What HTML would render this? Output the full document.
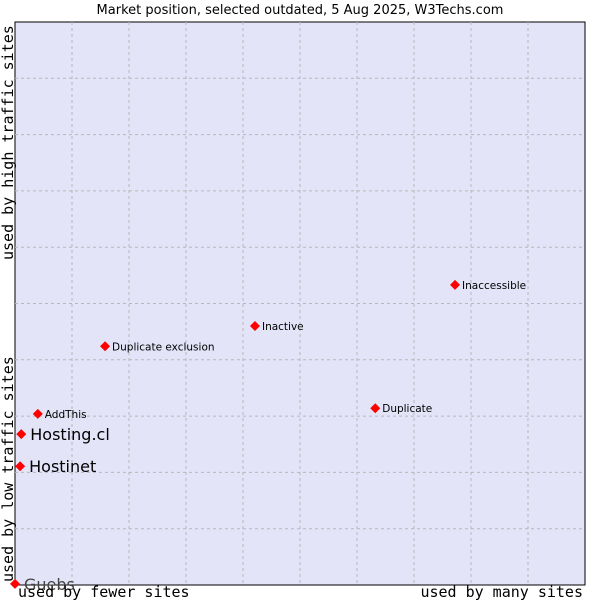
<!DOCTYPE html>
<html><head><meta charset="utf-8"><style>
body{margin:0;background:#fff;width:600px;height:600px;overflow:hidden}
svg text{font-family:"DejaVu Sans","Liberation Sans",sans-serif}
.mono{font-family:"DejaVu Sans Mono","Liberation Mono",monospace}
</style></head><body>
<svg id="chart" width="600" height="600">
<text x="300" y="14" text-anchor="middle" font-size="13" fill="#000">Market position, selected outdated, 5 Aug 2025, W3Techs.com</text>
<rect x="15" y="22" width="570" height="563" fill="#e3e4f8" stroke="#000" stroke-width="1"/>
<g id="grid"></g>
<g id="points"></g>
<text class="mono" x="18" y="597" font-size="15">used by fewer sites</text>
<text class="mono" x="583" y="597" font-size="15" text-anchor="end">used by many sites</text>
<text class="mono" transform="translate(13,582) rotate(-90)" font-size="15">used by low traffic sites</text>
<text class="mono" transform="translate(13,260) rotate(-90)" font-size="15">used by high traffic sites</text>
</svg>
<script>
const names=["Guebs","Hostinet","Hosting.cl","AddThis","Duplicate exclusion","Inactive","Duplicate","Inaccessible"];
const xs=[0,0.9,1.1,4.0,15.8,42.1,63.2,77.2];
const ys=[0.2,21.1,26.8,30.4,42.4,46.0,31.4,53.3];
const big=[true,true,true,false,false,false,false,false];
const L=15,T=22,W=570,H=563;
const sx=v=>L+v/100*W, sy=v=>T+H-v/100*H;
const NS="http://www.w3.org/2000/svg";
const g=document.getElementById('grid');
for(let i=1;i<10;i++){
 const a=document.createElementNS(NS,'line');
 a.setAttribute('x1',sx(i*10));a.setAttribute('x2',sx(i*10));a.setAttribute('y1',T);a.setAttribute('y2',T+H);
 a.setAttribute('stroke','#b8b8b8');a.setAttribute('stroke-dasharray','3,3');
 
 
 g.appendChild(a);
 const b=document.createElementNS(NS,'line');
 b.setAttribute('y1',sy(i*10));b.setAttribute('y2',sy(i*10));b.setAttribute('x1',L);b.setAttribute('x2',L+W);
 b.setAttribute('stroke','#b8b8b8');b.setAttribute('stroke-dasharray','3,3');
 
 
 g.appendChild(b);
}
const p=document.getElementById('points');
names.forEach((n,i)=>{
 const x=sx(xs[i]),y=sy(ys[i]);
 const d=document.createElementNS(NS,'polygon');
 d.setAttribute('points',`${x},${y-5} ${x+5},${y} ${x},${y+5} ${x-5},${y}`);
 d.setAttribute('fill','#ff0000');
 
 
 p.appendChild(d);
 const t=document.createElementNS(NS,'text');
 t.setAttribute('x',x+(big[i]?9:7));
 t.setAttribute('y',y+(big[i]?6:4));
 t.setAttribute('font-size',big[i]?16:10.5);
 t.setAttribute('fill',i===0?'#444':'#000');
 t.textContent=n;
 
 
 p.appendChild(t);
});
</script>
</body></html>
